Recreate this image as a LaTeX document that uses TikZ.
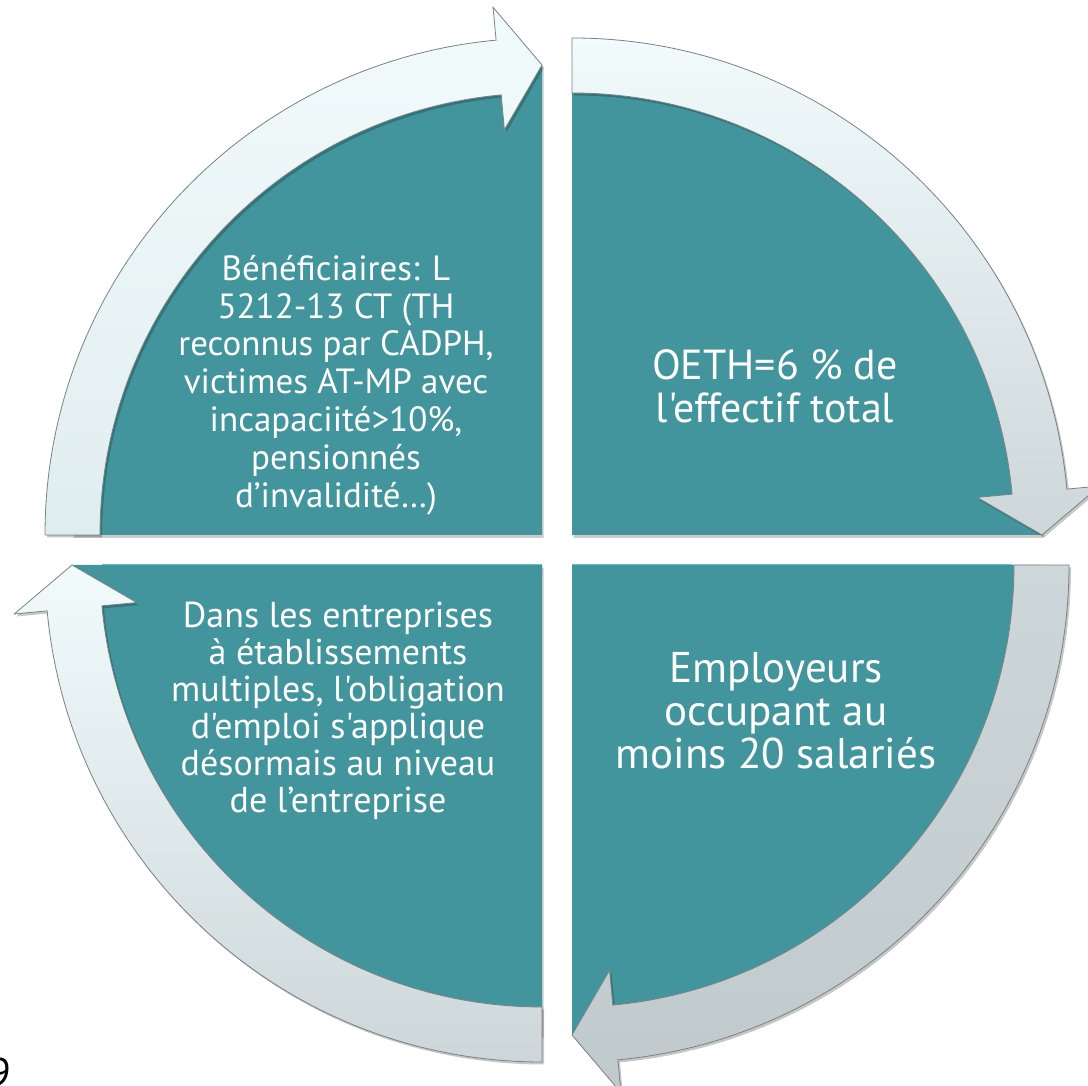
\documentclass[tikz,border=0pt]{standalone}
\usepackage{fontspec}
\setmainfont{PT Sans}[Ligatures=TeXOff]
\definecolor{tealq}{RGB}{66,149,157}
\definecolor{tealhi}{RGB}{104,192,200}
\definecolor{bandedge}{RGB}{120,130,133}
\definecolor{bandA}{RGB}{242,251,252}
\definecolor{bandB}{RGB}{224,237,239}
\definecolor{bandC}{RGB}{205,215,217}
\definecolor{bandD}{RGB}{192,202,205}
\tikzset{
  quadfill/.style={fill=tealq},
  bandshape/.style={draw=bandedge, line width=0.8pt, line join=miter},
  bandshadow/.style={fill=black, opacity=0.22},
  lbl/.style={text=white, align=center, inner sep=0pt},
}
\newcommand\cyclequad[4]{%
  \begin{scope}[shift={(#1)}]
    \pgfmathsetmacro\qe{#2-90}
    \pgfmathsetmacro\qb{#2-84.7}
    \fill[black, opacity=0.2] (1.5,-3) -- ++(#2:470) arc[start angle=#2, end angle=\qe, radius=470] -- cycle;
    \fill[quadfill] (0,0) -- (#2:470) arc[start angle=#2, end angle=\qe, radius=470] -- cycle;
    \begin{scope}[shift={(2,-2.5)}]
      \fill[bandshadow] (#2:497) arc[start angle=#2, end angle=\qb, radius=497]
        -- (\qb:530) -- (\qe:470) -- (\qb:407) -- (\qb:442)
        arc[start angle=\qb, end angle=#2, radius=442] -- cycle;
    \end{scope}
    \path[bandshape, top color=#3, bottom color=#4] (#2:497) arc[start angle=#2, end angle=\qb, radius=497]
      -- (\qb:530) -- (\qe:470) -- (\qb:407) -- (\qb:442)
      arc[start angle=\qb, end angle=#2, radius=442] -- cycle;
  \end{scope}}
\begin{document}
\begin{tikzpicture}[x=1pt, y=1pt]
\useasboundingbox (0,0) rectangle (1088,1086);
\fill[white] (0,0) rectangle (1088,1086);
\coordinate (tl) at (542,551);
\coordinate (tr) at (572,551);
\coordinate (bl) at (542,521);
\coordinate (br) at (572,521);
\cyclequad{tl}{180}{bandA}{bandB}
\cyclequad{tr}{90}{bandA}{bandC}
% light top edge of the lower quadrants
\shade[top color=tealhi, bottom color=tealq] (bl) ++(-440,0) rectangle ++(440,-7);
\shade[top color=tealhi, bottom color=tealq] (br) rectangle ++(440,-7);
\cyclequad{br}{0}{bandC}{bandD}
\cyclequad{bl}{270}{bandA}{bandC}
\node[lbl, font=\fontsize{35}{37.8}\selectfont] (benef) at (336,701)
  {Bénéficiaires: L\\5212-13 CT (TH\\reconnus par CADPH,\\victimes AT-MP avec\\incapaciité>10\%,\\pensionnés\\d’invalidité…)};
\node[lbl, font=\fontsize{42}{43}\selectfont] (oeth) at (775,700)
  {OETH=6 \% de\\l'effectif total};
\node[lbl, font=\fontsize{36}{37}\selectfont] (etab) at (338,375)
  {Dans les entreprises\\à établissements\\multiples, l'obligation\\d'emploi s'applique\\désormais au niveau\\de l’entreprise};
\node[lbl, font=\fontsize{43}{43}\selectfont] (empl) at (776,375)
  {Employeurs\\occupant au\\moins 20 salariés};
\node[inner sep=0pt, anchor=north east, font=\fontsize{40}{40}\selectfont] (pagenum) at (12,28) {9};
\end{tikzpicture}
\end{document}
